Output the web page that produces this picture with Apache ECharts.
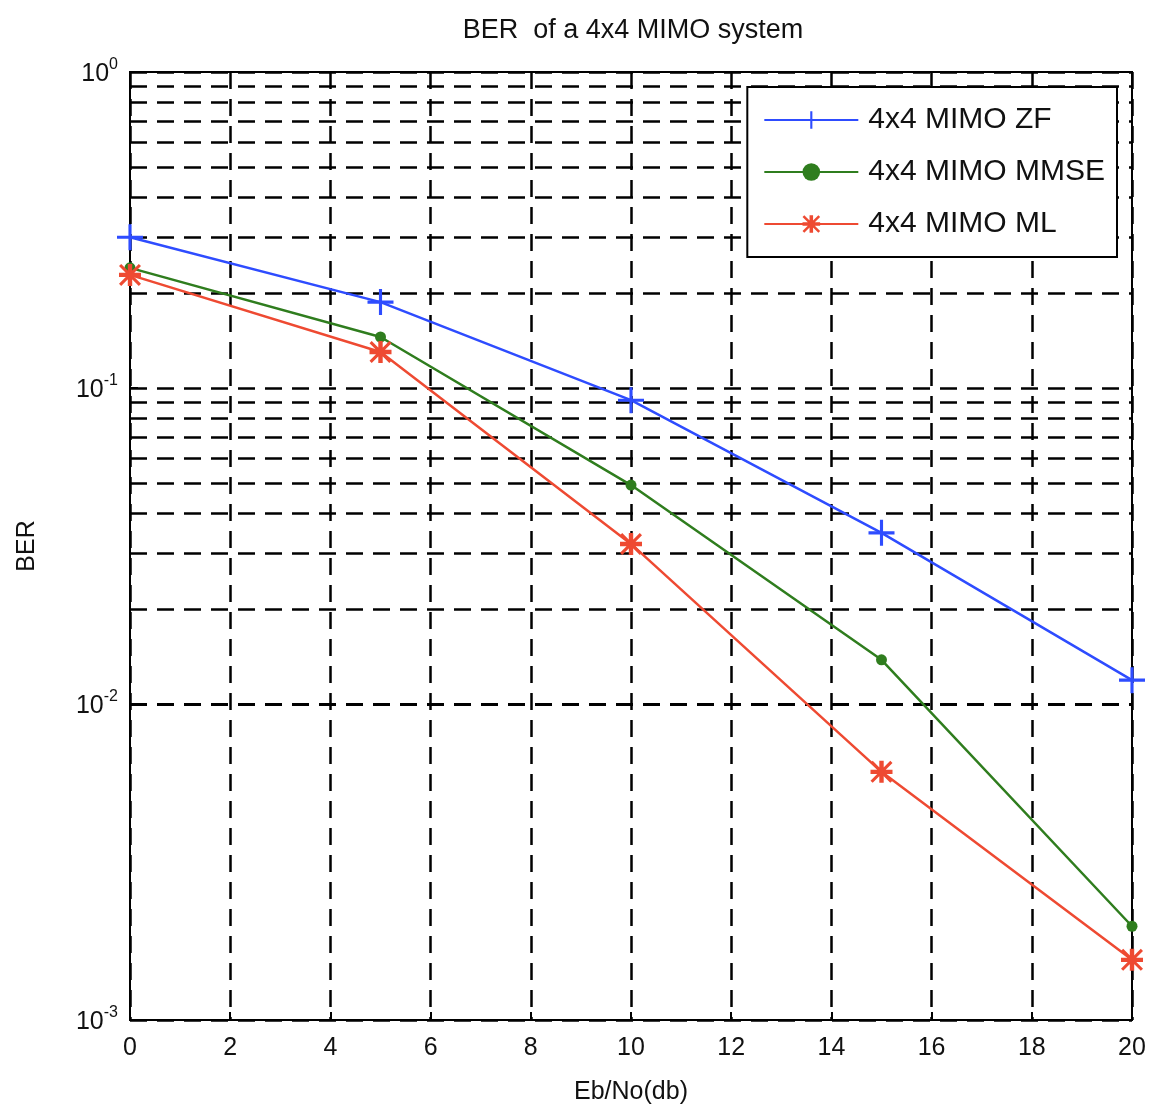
<!DOCTYPE html>
<html>
<head>
<meta charset="utf-8">
<script src="https://cdn.jsdelivr.net/npm/echarts@6/dist/echarts.min.js"></script>
<style>
  html, body { margin: 0; padding: 0; background: #fff; }
  #chart { width: 1154px; height: 1118px; }
</style>
</head>
<body>
<div id="chart"></div>
<script>
// Eb/No in dB
var snr = [0, 5, 10, 15, 20];
// BER curves
var berZF = [0.30, 0.187, 0.0915, 0.0348, 0.0119];
var berMMSE = [0.24, 0.145, 0.0493, 0.0138, 0.00198];
var berML = [0.228, 0.130, 0.0321, 0.0061, 0.00155];
var seriesNames = ['4x4 MIMO ZF', '4x4 MIMO MMSE', '4x4 MIMO ML'];
var decadeLabels = { '1': '0', '0.1': '-1', '0.01': '-2', '0.001': '-3' };

// minor grid lines at 2..9 of every decade (like matlab's log grid)
var minorLines = [];
[0.001, 0.01, 0.1].forEach(function (d) {
    for (var k = 2; k <= 9; k++) {
        minorLines.push({ yAxis: +(d * k).toPrecision(3) });
    }
});

function pairs(ys) {
    return snr.map(function (x, i) { return [x, ys[i]]; });
}

var plusPath = 'path://M4.4,0h1.2v4.4h4.4v1.2h-4.4v4.4h-1.2v-4.4h-4.4v-1.2h4.4z';
var starPath = 'path://M4,0h2v4h4v2h-4v4h-2v-4h-4v-2h4z M1,0L10,9L9,10L0,1z M9,0L10,1L1,10L0,9z';
var dash = [17, 10];

var chart = echarts.init(document.getElementById('chart'));
var option = {
    animation: false,
    backgroundColor: '#fff',
    textStyle: { fontFamily: 'Liberation Sans' },
    title: {
        text: 'BER  of a 4x4 MIMO system',
        left: 628,
        textAlign: 'center',
        top: 12,
        textStyle: { fontSize: 27, fontWeight: 'normal', color: '#111' }
    },
    legend: {
        orient: 'vertical',
        right: 37,
        top: 87,
        z: 20,
        data: seriesNames,
        backgroundColor: '#fff',
        borderColor: '#000',
        borderWidth: 2,
        borderRadius: 0,
        padding: [18, 12, 18, 16],
        itemWidth: 94,
        itemHeight: 22,
        itemGap: 22,
        textStyle: { fontSize: 30, color: '#111', padding: [0, 0, 0, 5] }
    },
    grid: {
        left: 130,
        right: 22,
        top: 72,
        bottom: 98,
        show: true,
        borderColor: '#000',
        borderWidth: 2,
        backgroundColor: 'transparent'
    },
    xAxis: {
        type: 'value',
        min: 0,
        max: 20,
        interval: 2,
        name: 'Eb/No(db)',
        nameLocation: 'middle',
        nameGap: 60,
        nameTextStyle: { fontSize: 25, color: '#111' },
        axisLine: { lineStyle: { color: '#000', width: 2 } },
        axisTick: { inside: true, length: 8, lineStyle: { color: '#000', width: 2 } },
        axisLabel: { fontSize: 25, color: '#111', margin: 16 },
        splitLine: { show: true, lineStyle: { color: '#000', width: 2.5, type: dash } }
    },
    yAxis: {
        type: 'log',
        logBase: 10,
        min: 0.001,
        max: 1,
        name: 'BER',
        nameLocation: 'middle',
        nameGap: 90,
        nameTextStyle: { fontSize: 25, color: '#111' },
        axisLine: { lineStyle: { color: '#000', width: 2 } },
        axisTick: { inside: true, length: 8, lineStyle: { color: '#000', width: 2 } },
        axisLabel: {
            margin: 12,
            formatter: function (v) {
                var key = String(+v.toPrecision(3));
                return '{b|10}{s|' + (decadeLabels[key] || '') + '}';
            },
            rich: {
                b: { fontSize: 25, color: '#111', lineHeight: 30, verticalAlign: 'bottom', fontFamily: 'Liberation Sans' },
                s: { fontSize: 16, color: '#111', lineHeight: 30, verticalAlign: 'top', fontFamily: 'Liberation Sans' }
            }
        },
        splitLine: { show: true, lineStyle: { color: '#000', width: 2.5, type: dash } }
    },
    series: [
        {
            name: 'minor grid',
            type: 'line',
            data: [],
            silent: true,
            z: 1,
            markLine: {
                silent: true,
                symbol: 'none',
                label: { show: false },
                lineStyle: { color: '#000', width: 2.5, type: dash },
                data: minorLines
            }
        },
        {
            name: seriesNames[0],
            type: 'line',
            data: pairs(berZF),
            symbol: plusPath,
            symbolSize: 26,
            z: 5,
            itemStyle: { color: '#2e4cff' },
            lineStyle: { color: '#2e4cff', width: 2.5 }
        },
        {
            name: seriesNames[1],
            type: 'line',
            data: pairs(berMMSE),
            symbol: 'circle',
            symbolSize: 11,
            z: 5,
            itemStyle: { color: '#2f7d1e' },
            lineStyle: { color: '#2f7d1e', width: 2.5 }
        },
        {
            name: seriesNames[2],
            type: 'line',
            data: pairs(berML),
            symbol: starPath,
            symbolSize: 22,
            z: 5,
            itemStyle: { color: '#ee4a32' },
            lineStyle: { color: '#ee4a32', width: 2.5 }
        }
    ]
};
chart.setOption(option);
</script>
</body>
</html>
